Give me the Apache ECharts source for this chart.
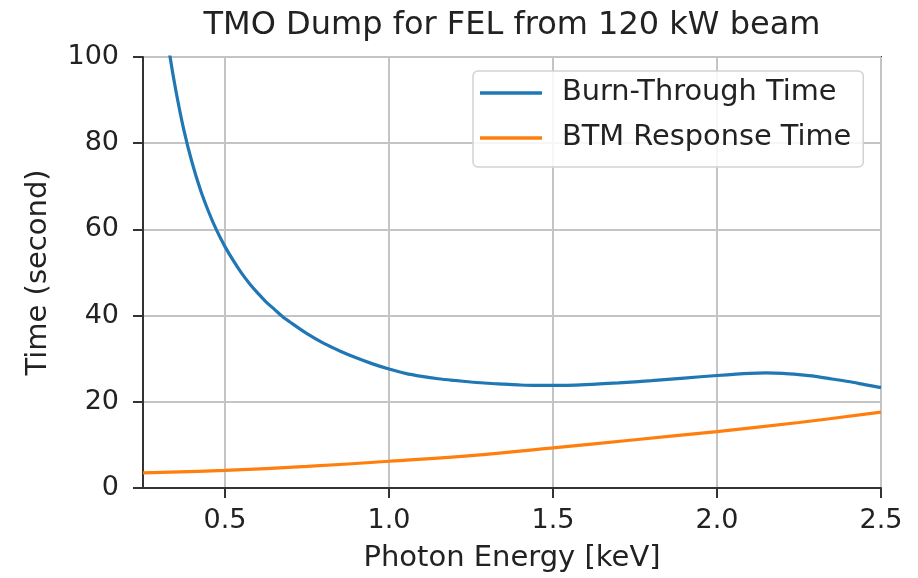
<!DOCTYPE html>
<html>
<head>
<meta charset="utf-8">
<script src="https://cdn.jsdelivr.net/npm/echarts@6/dist/echarts.min.js"></script>
<style>html,body{margin:0;padding:0;background:#fff}#c{width:918px;height:578px}</style>
</head>
<body>
<div id="c"></div>
<script>
const titleText = 'TMO Dump for FEL from 120 kW beam';
const xName = 'Photon Energy [keV]';
const yName = 'Time (second)';
const seriesNames = ['Burn-Through Time', 'BTM Response Time'];

const burnX = [0.325, 0.33, 0.35, 0.375, 0.4, 0.425, 0.45, 0.475, 0.5, 0.525, 0.55, 0.575, 0.6, 0.625, 0.65, 0.675, 0.7, 0.75, 0.8, 0.85, 0.9, 0.95, 1.0,
  1.05, 1.1, 1.15, 1.2, 1.25, 1.3, 1.35, 1.4, 1.45, 1.5, 1.6, 1.7, 1.8, 1.9, 2.0, 2.1, 2.15, 2.2, 2.25, 2.3, 2.35, 2.4, 2.45, 2.5];
const burnY = [104.4, 101.2, 92.3, 82.9, 75.4, 69.2, 64.1, 59.7, 56.0, 52.8, 49.9, 47.4, 45.2, 43.2, 41.5, 39.8, 38.4, 35.8, 33.6, 31.8, 30.2, 28.8, 27.6,
  26.6, 25.9, 25.35, 24.95, 24.6, 24.3, 24.1, 23.9, 23.8, 23.8, 24.0, 24.4, 24.9, 25.5, 26.1, 26.6, 26.7, 26.6, 26.3, 25.9, 25.3, 24.7, 24.0, 23.3];

const btmX = [0.25, 0.5, 0.75, 1.0, 1.25, 1.5, 1.75, 2.0, 2.25, 2.5];
const btmY = [3.5, 4.1, 5.0, 6.2, 7.5, 9.3, 11.2, 13.1, 15.2, 17.6];

const xMin = 0.25, xMax = 2.5;
const yMin = 0, yMax = 100, yStep = 20;

const FONT = 'DejaVu Sans';
const chart = echarts.init(document.getElementById('c'), null, {renderer: 'canvas'});
chart.setOption({
  backgroundColor: '#ffffff',
  animation: false,
  title: {
    text: titleText, left: 512, top: 10, textAlign: 'center', padding: 0,
    textStyle: {fontFamily: FONT, fontSize: 32, fontWeight: 'normal', color: '#222'}
  },
  legend: {
    orient: 'vertical', left: 473, top: 71,
    padding: [4, 12, 11, 7], itemGap: 9,
    itemWidth: 62, itemHeight: 3.5, icon: 'rect',
    backgroundColor: 'rgba(255,255,255,0.85)',
    borderColor: '#d2d2d2', borderWidth: 1.5, borderRadius: 5,
    textStyle: {fontFamily: FONT, fontSize: 28.8, color: '#222', lineHeight: 36, padding: [0, 0, 0, 15]},
    data: seriesNames
  },
  grid: {
    left: 143, right: 37, top: 57, bottom: 90,
    show: true, borderColor: '#333', borderWidth: 2, backgroundColor: 'transparent'
  },
  xAxis: {
    type: 'value', min: xMin, max: xMax, splitNumber: 5,
    name: xName, nameLocation: 'middle', nameGap: 56,
    nameTextStyle: {fontFamily: FONT, fontSize: 29, color: '#222'},
    axisLine: {show: true, onZero: false, lineStyle: {color: '#333', width: 2}},
    axisTick: {show: true, length: 10, lineStyle: {color: '#333', width: 2}},
    axisLabel: {showMinLabel: false, margin: 19, fontFamily: FONT, fontSize: 27, color: '#222',
      formatter: v => v.toFixed(1)},
    splitLine: {show: true, lineStyle: {color: '#c4c4c4', width: 2}}
  },
  yAxis: {
    type: 'value', min: yMin, max: yMax, interval: yStep,
    name: yName, nameLocation: 'middle', nameGap: 90, nameRotate: 90,
    nameTextStyle: {fontFamily: FONT, fontSize: 29, color: '#222'},
    axisLine: {show: true, lineStyle: {color: '#333', width: 2}},
    axisTick: {show: true, length: 10, lineStyle: {color: '#333', width: 2}},
    axisLabel: {margin: 24, fontFamily: FONT, fontSize: 27, color: '#222'},
    splitLine: {show: true, lineStyle: {color: '#c4c4c4', width: 2}}
  },
  series: [
    {
      name: seriesNames[0], type: 'line', symbol: 'none', smooth: 0.3, clip: true,
      color: '#1f77b4', lineStyle: {color: '#1f77b4', width: 3.2},
      data: burnX.map((x, i) => [x, burnY[i]])
    },
    {
      name: seriesNames[1], type: 'line', symbol: 'none', smooth: 0.4, clip: true,
      color: '#ff7f0e', lineStyle: {color: '#ff7f0e', width: 3.2},
      data: btmX.map((x, i) => [x, btmY[i]])
    }
  ]
});
</script>
</body>
</html>
